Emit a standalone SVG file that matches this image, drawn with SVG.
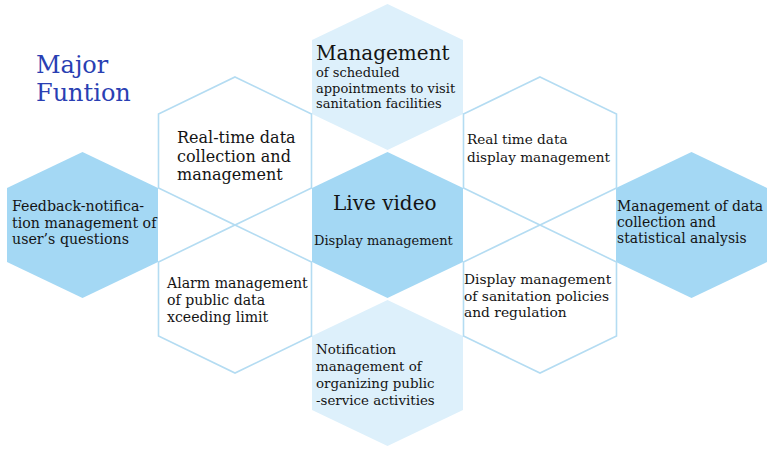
<svg xmlns="http://www.w3.org/2000/svg" width="771" height="449" viewBox="0 0 771 449">
<style>
.dark{fill:#a4d8f4;stroke:none}
.light{fill:#ddf0fb;stroke:none}
.outline{fill:none;stroke:#b4dcf2;stroke-width:1.6}
text{font-family:"DejaVu Serif","Liberation Serif",serif;fill:#141414}
.title{fill:#2a3fb3;font-size:24px}
</style>
<rect width="771" height="449" fill="#ffffff"/>
<text class="title" x="36" y="73">Major</text>
<text class="title" x="36" y="101">Funtion</text>
<g id="node-top">
<polygon class="light" points="387.5,4 463,40 463,114 387.5,150 312,114 312,40"/>
<text x="316" y="60" font-size="20">Management</text>
<text font-size="13"><tspan x="316" y="77">of scheduled</tspan><tspan x="316" y="92.5">appointments to visit</tspan><tspan x="316" y="107.5">sanitation facilities</tspan></text>
</g>
<g id="node-center">
<polygon class="dark" points="387.5,152 463,188 463,262 387.5,298 312,262 312,188"/>
<text x="333" y="210" font-size="20">Live video</text>
<text x="314" y="245" font-size="13">Display management</text>
</g>
<g id="node-bottom">
<polygon class="light" points="387.5,300 463,336 463,410 387.5,446 312,410 312,336"/>
<text font-size="13.4"><tspan x="316" y="354">Notification</tspan><tspan x="316" y="371">management of</tspan><tspan x="316" y="388">organizing public</tspan><tspan x="316" y="405">-service activities</tspan></text>
</g>
<g id="node-left">
<polygon class="dark" points="82.5,152 158,188 158,262 82.5,298 7,262 7,188"/>
<text font-size="14.2"><tspan x="12" y="211">Feedback-notifica-</tspan><tspan x="12" y="227.5">tion management of</tspan><tspan x="12" y="244">user’s questions</tspan></text>
</g>
<g id="node-right">
<polygon class="dark" points="691.5,152 767,188 767,262 691.5,298 616,262 616,188"/>
<text font-size="13.9"><tspan x="617" y="211">Management of data</tspan><tspan x="617" y="227">collection and</tspan><tspan x="617" y="243">statistical analysis</tspan></text>
</g>
<g id="node-ul">
<polygon class="outline" points="235,77 311.5,114 311.5,188 235,225 158.5,188 158.5,114"/>
<text font-size="16"><tspan x="177" y="143">Real-time data</tspan><tspan x="177" y="161.5">collection and</tspan><tspan x="177" y="180">management</tspan></text>
</g>
<g id="node-ll">
<polygon class="outline" points="235,225 311.5,262 311.5,336 235,373 158.5,336 158.5,262"/>
<text font-size="14.1"><tspan x="167" y="288">Alarm management</tspan><tspan x="167" y="305">of public data</tspan><tspan x="167" y="322">xceeding limit</tspan></text>
</g>
<g id="node-ur">
<polygon class="outline" points="540,77 616.5,114 616.5,188 540,225 463.5,188 463.5,114"/>
<text font-size="13.6"><tspan x="467" y="144">Real time data</tspan><tspan x="467" y="162">display management</tspan></text>
</g>
<g id="node-lr">
<polygon class="outline" points="540,225 616.5,262 616.5,336 540,373 463.5,336 463.5,262"/>
<text font-size="13.8"><tspan x="464" y="284">Display management</tspan><tspan x="464" y="301">of sanitation policies</tspan><tspan x="464" y="317">and regulation</tspan></text>
</g>
<g id="connectors"></g>
</svg>
